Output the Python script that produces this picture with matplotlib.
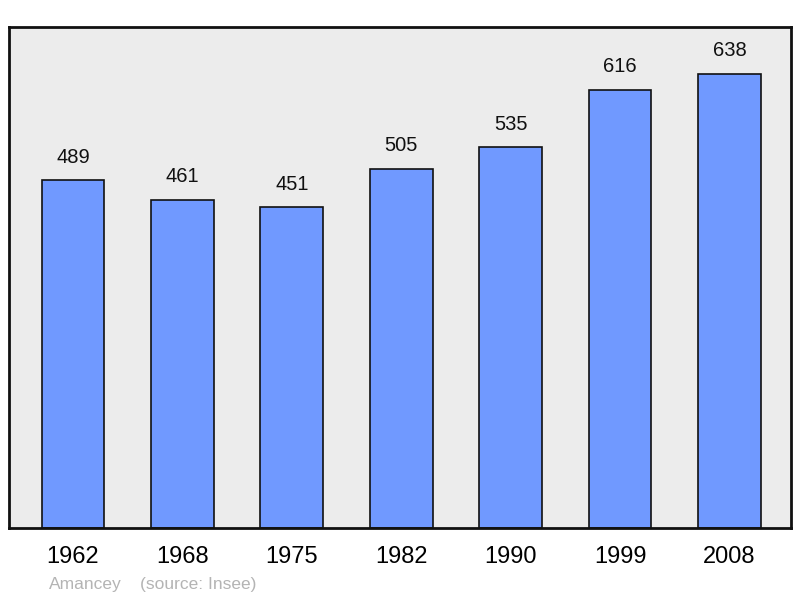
import matplotlib
matplotlib.use("Agg")
import matplotlib.pyplot as plt
import numpy as np

plt.rcParams['font.family'] = ['Liberation Sans', 'DejaVu Sans']

years = ['1962', '1968', '1975', '1982', '1990', '1999', '2008']
population = [489, 461, 451, 505, 535, 616, 638]

fig = plt.figure(figsize=(8, 5.98), dpi=100)
ax = fig.add_axes([9/800, 1 - 528/598, (791 - 9)/800, (528 - 27)/598])
ax.set_facecolor('#ececec')

x = np.arange(len(years))
ax.bar(x, population, width=0.575, color='#7099ff', edgecolor='#111111', linewidth=1.2, zorder=2)

for xi, v in zip(x, population):
    ax.text(xi, v + 23/0.7117, str(v), ha='center', va='center', fontsize=14.5, color='#111111')

ax.set_xlim(-0.585, 6.563)
ax.set_ylim(0, 704)
ax.set_yticks([])
ax.set_xticks(x)
ax.set_xticklabels(years, fontsize=17)
ax.tick_params(axis='x', length=0, pad=13)

for s in ax.spines.values():
    s.set_linewidth(2)
    s.set_color('#111111')

fig.text(49/800, 1 - 584/598, 'Amancey', fontsize=12.5, color='#b4b4b4', va='center', ha='left')
fig.text(140/800, 1 - 584/598, '(source: Insee)', fontsize=12.5, color='#b4b4b4', va='center', ha='left')

fig.savefig('out.png', dpi=100, facecolor='white')
